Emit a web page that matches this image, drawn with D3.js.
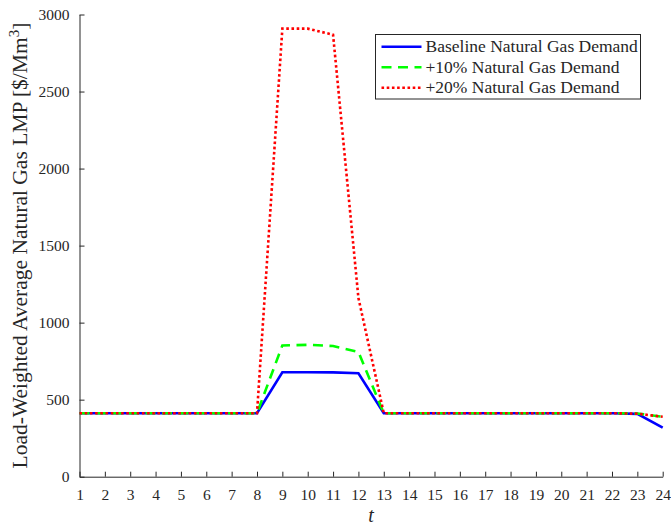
<!DOCTYPE html>
<html>
<head>
<meta charset="utf-8">
<script src="https://cdn.jsdelivr.net/npm/d3@7"></script>
<style>
  body { margin: 0; background: #fff; }
  text { font-family: "Liberation Serif", "DejaVu Serif", serif; fill: #262626; }
</style>
</head>
<body>
<div class="chart"></div>
<script>
// data
var hours = d3.range(1, 25);
var baseline = [412, 412, 412, 412, 412, 412, 412, 412, 678, 678, 677, 671, 412, 412, 412, 412, 412, 412, 412, 412, 412, 412, 408, 318];
var plus10 = [412, 412, 412, 412, 412, 412, 412, 412, 852, 856, 848, 810, 412, 412, 412, 412, 412, 412, 412, 412, 412, 412, 410, 389];
var plus20 = [412, 412, 412, 412, 412, 412, 412, 412, 2908, 2908, 2869, 1160, 412, 412, 412, 412, 412, 412, 412, 412, 412, 412, 409, 389];
var yTicks = [0, 500, 1000, 1500, 2000, 2500, 3000];
var seriesNames = ["Baseline Natural Gas Demand", "+10% Natural Gas Demand", "+20% Natural Gas Demand"];

var yaxistext = "Load-Weighted Average Natural Gas LMP [$/Mm";
var xaxistext = "t";

// setup
var W = 671, H = 525;
var margin = {top: 14.5, right: 8.3, bottom: 48.3, left: 79.5},
    width = W - margin.left - margin.right,
    height = H - margin.top - margin.bottom;

var svg = d3.select(".chart").append("svg")
    .attr("width", W)
    .attr("height", H)
  .append("g")
    .attr("transform", "translate(" + margin.left + "," + margin.top + ")");

var x = d3.scaleLinear().domain([1, 24]).range([0, width]);
var y = d3.scaleLinear().domain([0, 3000]).range([height, 0]);

var xAxis = d3.axisBottom(x).tickValues(hours).tickSizeInner(-5).tickSizeOuter(0).tickPadding(12);
var yAxis = d3.axisLeft(y).tickValues(yTicks).tickFormat(d3.format("d"))
    .tickSizeInner(-5).tickSizeOuter(0).tickPadding(10);

var gx = svg.append("g")
    .attr("transform", "translate(0," + height + ")")
    .call(xAxis);
var gy = svg.append("g").call(yAxis);

[gx, gy].forEach(function(g) {
  g.attr("font-family", "Liberation Serif").attr("font-size", 15.5);
  g.select(".domain").attr("stroke", "#262626").attr("stroke-width", 1);
  g.selectAll(".tick line").attr("stroke", "#262626").attr("stroke-width", 1);
  g.selectAll(".tick text")
    .style("font-family", "Liberation Serif")
    .style("font-size", "15.5px")
    .attr("fill", "#262626");
});

// lines
var series = [
  {vals: baseline, color: "#0000ff", dash: null},
  {vals: plus10, color: "#00ff00", dash: "10,6.5"},
  {vals: plus20, color: "#ff0000", dash: "2.6,2.6"}
];

var line = d3.line()
    .x(function(d, i) { return x(hours[i]); })
    .y(function(d) { return y(d); });

series.forEach(function(s) {
  svg.append("path")
      .datum(s.vals)
      .attr("fill", "none")
      .attr("stroke", s.color)
      .attr("stroke-width", 2.6)
      .attr("stroke-dasharray", s.dash)
      .attr("d", line);
});

// legend
var legend = svg.append("g")
    .attr("transform", "translate(" + (375.5 - margin.left) + "," + (34.5 - margin.top) + ")");

legend.append("rect")
    .attr("width", 265)
    .attr("height", 64.5)
    .attr("fill", "#fff")
    .attr("stroke", "#262626")
    .attr("stroke-width", 1);

series.forEach(function(s, i) {
  var ly = 12.2 + i * 20.5;
  legend.append("line")
      .attr("x1", 6).attr("x2", 46)
      .attr("y1", ly).attr("y2", ly)
      .attr("stroke", s.color)
      .attr("stroke-width", 2.6)
      .attr("stroke-dasharray", s.dash);
  legend.append("text")
      .attr("x", 50)
      .attr("y", ly + 5.5)
      .style("font-size", "17.5px")
      .text(seriesNames[i]);
});

// text label for the x axis
svg.append("text")
    .attr("x", width / 2)
    .attr("y", height + 45)
    .style("text-anchor", "middle")
    .style("font-size", "20px")
    .style("font-style", "italic")
    .text(xaxistext);

// text label for the y axis
var yl = svg.append("text")
    .attr("transform", "rotate(-90)")
    .attr("x", -height / 2)
    .attr("y", 26.5 - margin.left)
    .style("text-anchor", "middle")
    .style("font-size", "21.5px")
    .text(yaxistext);
yl.append("tspan").attr("dy", -8).style("font-size", "15px").text("3");
yl.append("tspan").attr("dy", 8).text("]");
</script>
</body>
</html>
